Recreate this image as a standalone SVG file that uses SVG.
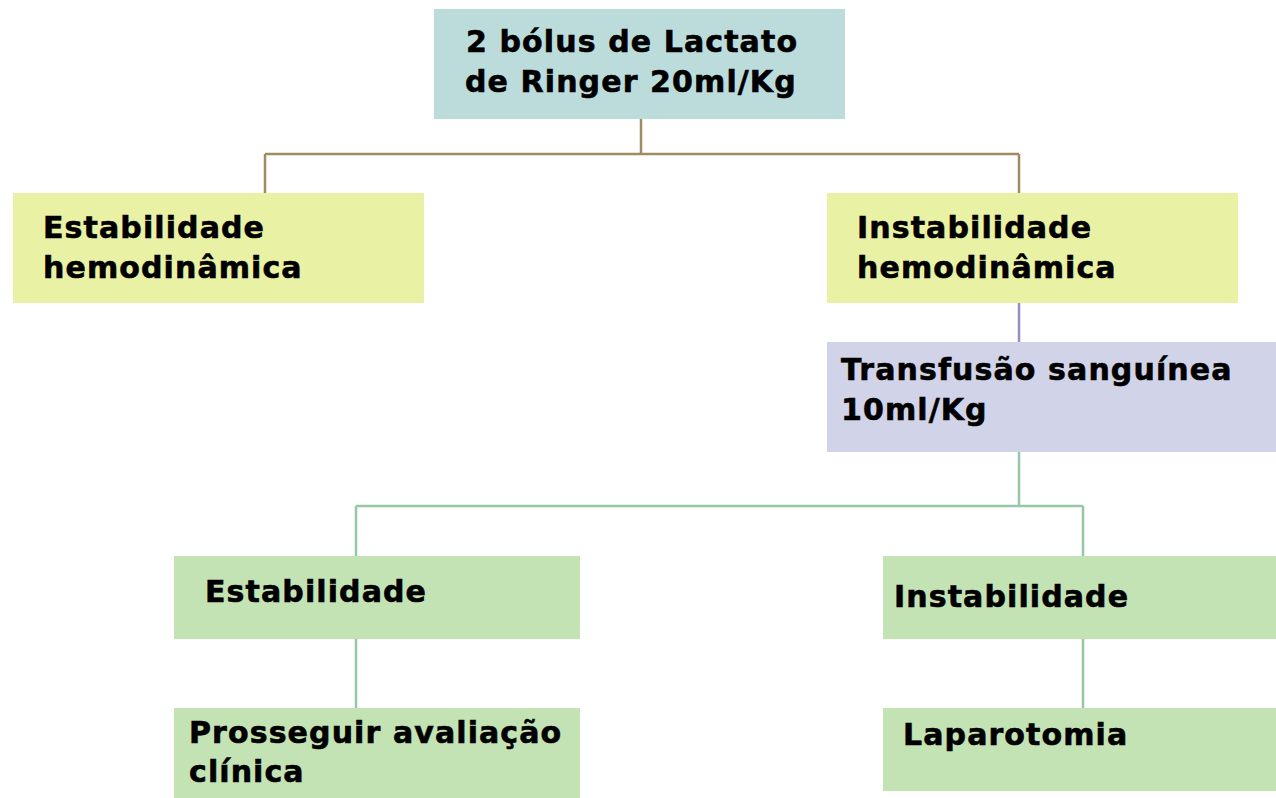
<svg xmlns="http://www.w3.org/2000/svg" width="1276" height="798" viewBox="0 0 1276 798">
<style>
text{font-family:"DejaVu Sans",Verdana,sans-serif;font-weight:bold;font-size:30px;letter-spacing:1.1px;fill:#000;stroke:#000;stroke-width:0.6}
.c{fill:none;stroke-width:2.5}
</style>
<rect width="1276" height="798" fill="#fff"/>
<g id="connectors">
<path class="c" stroke="#a08c5f" d="M641 118V154M265 154H1019M265 154V193M1019 154V193"/>
<path class="c" stroke="#9d89c8" d="M1019 303V342"/>
<path class="c" stroke="#95c8a8" d="M1019 452V506M356 506H1083M356 506V556M1083 506V556M356 639V708M1083 639V708"/>
</g>
<g id="n1"><rect x="434" y="9" width="411" height="110" fill="#bcdcdc"/>
<text x="466" y="52">2 bólus de Lactato</text><text x="465" y="92">de Ringer 20ml/Kg</text></g>
<g id="n2"><rect x="13" y="193" width="411" height="110" fill="#e9f1a4"/>
<text x="43" y="238">Estabilidade</text><text x="43" y="278">hemodinâmica</text></g>
<g id="n3"><rect x="827" y="193" width="411" height="110" fill="#e9f1a4"/>
<text x="857" y="238">Instabilidade</text><text x="857" y="278">hemodinâmica</text></g>
<g id="n4"><rect x="827" y="342" width="449" height="110" fill="#d1d3e8"/>
<text x="841" y="380">Transfusão sanguínea</text><text x="841" y="420">10ml/Kg</text></g>
<g id="n5"><rect x="174" y="556" width="406" height="83" fill="#c3e3b5"/>
<text x="205" y="602">Estabilidade</text></g>
<g id="n6"><rect x="883" y="556" width="393" height="83" fill="#c3e3b5"/>
<text x="894" y="607">Instabilidade</text></g>
<g id="n7"><rect x="174" y="708" width="406" height="90" fill="#c3e3b5"/>
<text x="189" y="743">Prosseguir avaliação</text><text x="189" y="782">clínica</text></g>
<g id="n8"><rect x="883" y="708" width="393" height="83" fill="#c3e3b5"/>
<text x="903" y="745">Laparotomia</text></g>
</svg>
